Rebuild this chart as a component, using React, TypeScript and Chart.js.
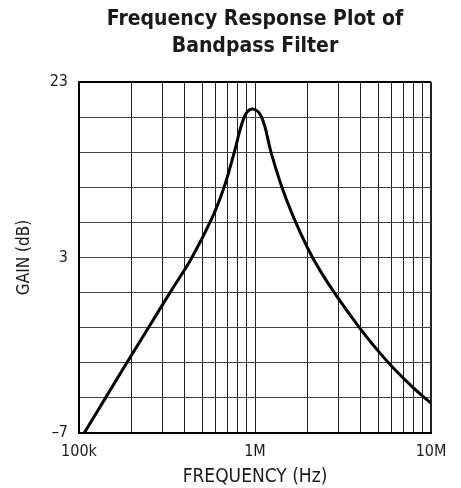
import React, { useEffect, useRef } from "react";
import { Chart, registerables } from "chart.js";

Chart.register(...registerables);

// ---- data ----
const FREQ_HZ = [
  107e3, 141.5e3, 187e3, 248e3, 329e3, 438e3, 573e3, 667e3, 763e3, 869e3,
  966e3, 1.09e6, 1.233e6, 1.422e6, 1.65e6, 2.0e6, 2.34e6, 2.91e6, 3.95e6,
  5.02e6, 6.11e6, 7.94e6, 10e6,
];
const GAIN_DB = [
  -7, -4, -1, 2, 5, 8, 11.45, 14, 17, 20,
  20.7, 20, 17, 14, 11.5, 8.75, 6.9, 4.7, 1.95,
  0, -1.45, -3.15, -4.45,
];

const X_GRID_HZ = [
  1e5, 2e5, 3e5, 4e5, 5e5, 6e5, 7e5, 8e5, 9e5,
  1e6, 2e6, 3e6, 4e6, 5e6, 6e6, 7e6, 8e6, 9e6, 1e7,
];
const X_LABEL_HZ = [1e5, 1e6, 1e7];
const X_LABEL_TEXT = ["100k", "1M", "10M"];

const Y_GRID = [-7, -4, -1, 2, 5, 8, 11, 14, 17, 20, 23];
const Y_LABEL_VALUES = [-7, 8, 23];
const Y_LABEL_TEXT = ["\u20137", "3", "23"];

const TITLE_LINES = ["Frequency Response Plot of", "Bandpass Filter"];
const X_TITLE = "FREQUENCY (Hz)";
const Y_TITLE = "GAIN (dB)";

const FONT =
  "'Liberation Sans Narrow', 'DejaVu Sans Condensed', 'Arial Narrow', sans-serif";

function labelFor(values: number[], texts: string[], v: number): string {
  for (let i = 0; i < values.length; i++) {
    if (Math.abs(values[i] - v) <= Math.abs(values[i]) * 1e-6 + 1e-9) return texts[i];
  }
  return "";
}

export default function App() {
  const canvasRef = useRef<HTMLCanvasElement | null>(null);

  useEffect(() => {
    const canvas = canvasRef.current;
    if (!canvas) return;
    const chart = new Chart(canvas, {
      type: "line",
      data: {
        datasets: [
          {
            data: FREQ_HZ.map((f, i) => ({ x: f, y: GAIN_DB[i] })),
            borderColor: "#000",
            borderWidth: 3,
            pointRadius: 0,
            fill: false,
            tension: 0.4,
          },
        ],
      },
      options: {
        animation: false,
        responsive: true,
        maintainAspectRatio: false,
        layout: { padding: { left: 0, right: 30, top: 0, bottom: 0 } },
        plugins: {
          legend: { display: false },
          tooltip: { enabled: false },
          title: {
            display: true,
            fullSize: false,
            text: TITLE_LINES,
            color: "#1a1a1a",
            font: { family: FONT, size: 21, weight: "bold", lineHeight: 1.3 },
            padding: { top: 5.4, bottom: 22 },
          },
        },
        scales: {
          x: {
            type: "logarithmic",
            min: 1e5,
            max: 1e7,
            afterBuildTicks: (scale: any) => {
              scale.ticks = X_GRID_HZ.map((v) => ({ value: v }));
            },
            afterFit: (scale: any) => {
              scale.height = 55;
            },
            ticks: {
              autoSkip: false,
              maxRotation: 0,
              minRotation: 0,
              padding: 9,
              color: "#1a1a1a",
              font: { family: FONT, size: 16 },
              callback: (value: any) => labelFor(X_LABEL_HZ, X_LABEL_TEXT, Number(value)),
            },
            grid: {
              color: "#222",
              lineWidth: (ctx: any) => (ctx.tick && ctx.tick.value === 1e7 ? 2 : 1),
              drawTicks: false,
            },
            border: { display: true, color: "#000", width: 2 },
            title: {
              display: true,
              text: X_TITLE,
              color: "#1a1a1a",
              font: { family: FONT, size: 19, lineHeight: 1.2 },
              padding: { top: 0, bottom: 0 },
            },
          },
          y: {
            type: "linear",
            min: -7,
            max: 23,
            afterBuildTicks: (scale: any) => {
              scale.ticks = Y_GRID.map((v) => ({ value: v }));
            },
            afterFit: (scale: any) => {
              scale.width = 79;
            },
            ticks: {
              autoSkip: false,
              padding: 11,
              color: "#1a1a1a",
              font: { family: FONT, size: 16 },
              callback: (value: any) => labelFor(Y_LABEL_VALUES, Y_LABEL_TEXT, Number(value)),
            },
            grid: {
              color: (ctx: any) => (ctx.tick && ctx.tick.value === 23 ? "#000" : "#444"),
              lineWidth: (ctx: any) => (ctx.tick && ctx.tick.value === 23 ? 2 : 1),
              drawTicks: false,
            },
            border: { display: true, color: "#000", width: 2 },
            title: {
              display: true,
              text: Y_TITLE,
              color: "#1a1a1a",
              font: { family: FONT, size: 17, lineHeight: 1.2 },
              padding: { top: 14, bottom: 0 },
            },
          },
        },
      } as any,
    });
    return () => chart.destroy();
  }, []);

  return (
    <div
      style={{
        position: "fixed",
        left: 0,
        top: 0,
        width: 461,
        height: 488,
        background: "#fff",
      }}
    >
      <canvas ref={canvasRef} />
    </div>
  );
}
